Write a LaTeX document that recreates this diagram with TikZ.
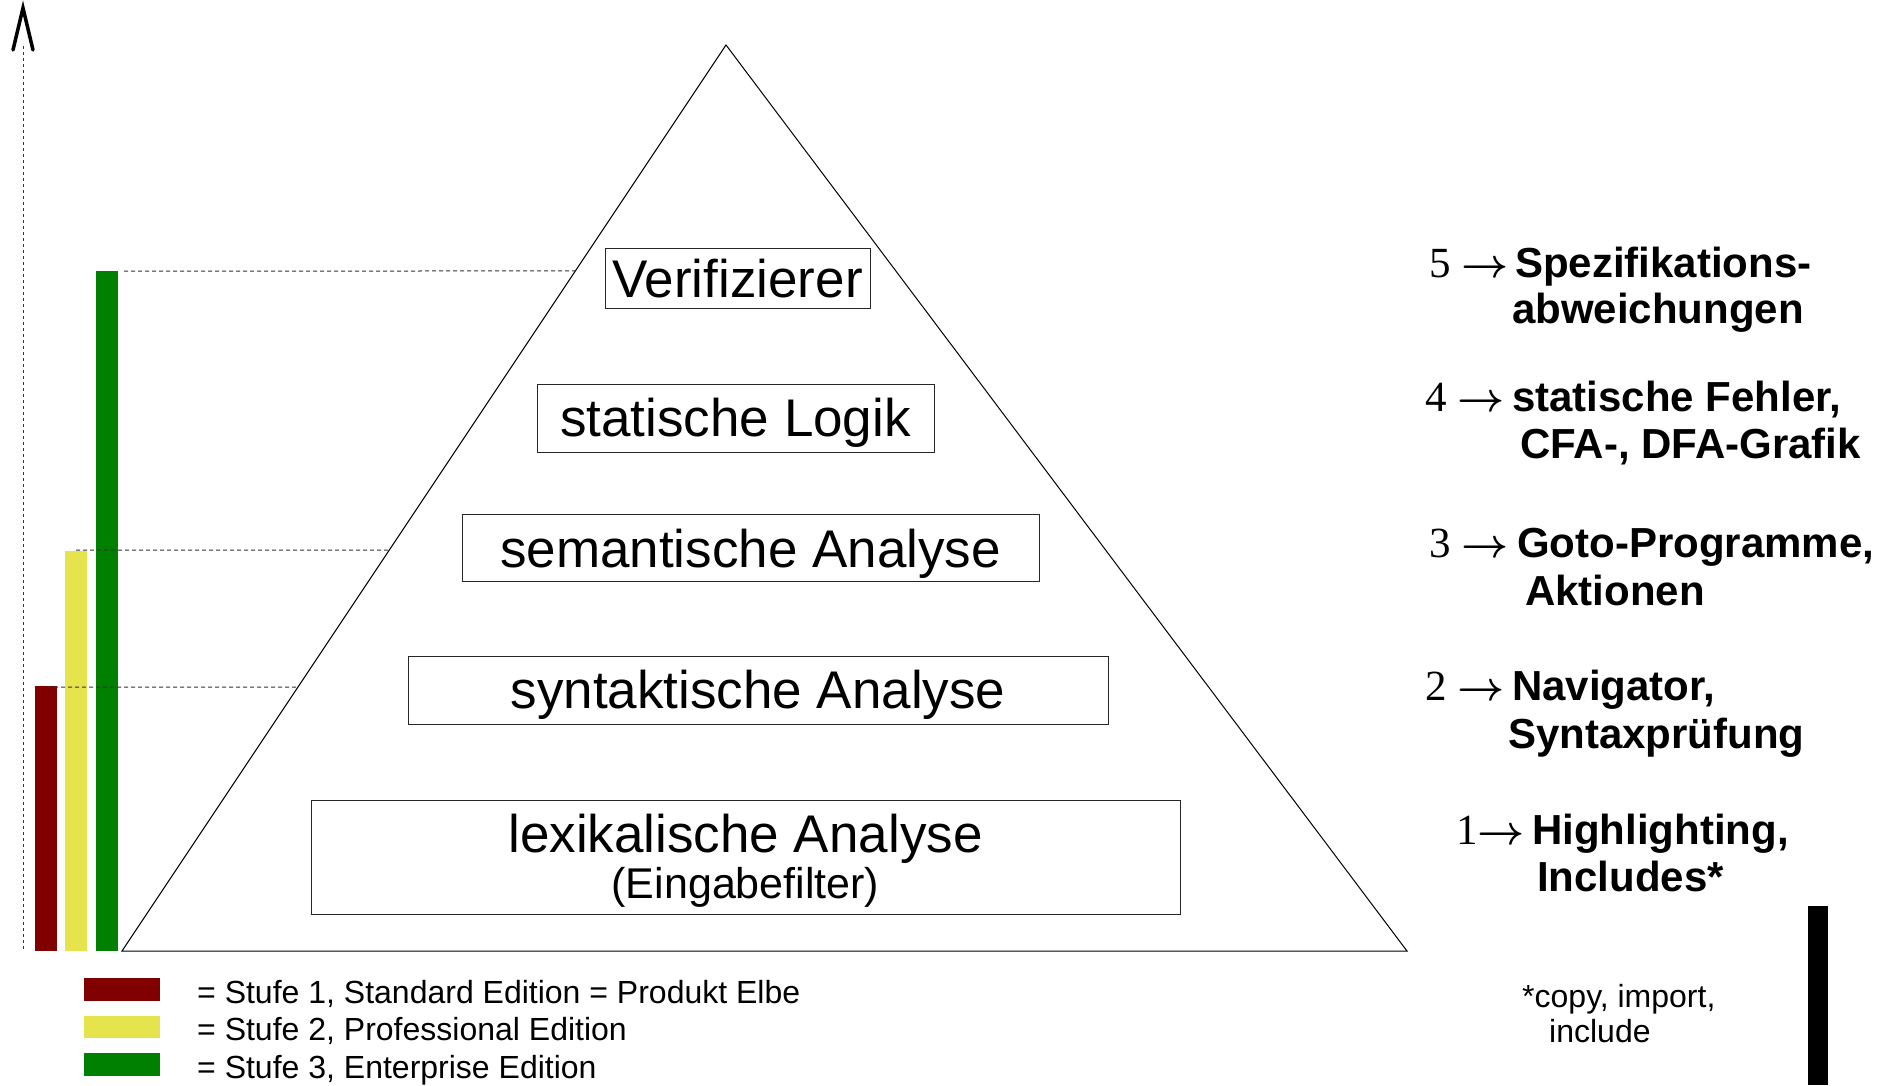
\documentclass[tikz,border=0pt]{standalone}
\usepackage{graphicx}
\usepackage{fontspec}
\setmainfont{Liberation Sans}
\newfontfamily\seriffont{Liberation Serif}
\usetikzlibrary{calc}
\newcommand{\bigarr}{\scalebox{4.1}{\fontsize{10}{12}\selectfont\boldmath$\rightarrow$}}
\begin{document}
\begin{tikzpicture}[x=1pt,y=-1pt,
  lvlbox/.style={draw=black!85, line width=1pt, inner sep=0pt, anchor=north west},
  boxlbl/.style={anchor=base, inner sep=0pt, font=\fontsize{53}{60}\selectfont},
  sublbl/.style={anchor=base, inner sep=0pt, font=\fontsize{43}{48}\selectfont},
  numlbl/.style={anchor=base west, inner sep=0pt, font=\seriffont\fontsize{43}{48}\selectfont},
  boldlbl/.style={anchor=base west, inner sep=0pt, font=\bfseries\fontsize{42}{48}\selectfont},
  leglbl/.style={anchor=base west, inner sep=0pt, font=\fontsize{32}{36}\selectfont},
  guide/.style={black!80, line width=1pt, dash pattern=on 4pt off 3pt},
]
\useasboundingbox (0,0) rectangle (1895,1085);
\definecolor{stufeA}{RGB}{128,0,0}
\definecolor{stufeB}{RGB}{230,228,77}
\definecolor{stufeC}{RGB}{0,128,0}

% axis
\coordinate (axtop) at (23,46);
\coordinate (axbot) at (23,951);
\draw[black!80, line width=1pt, dash pattern=on 3pt off 3pt] (axtop) -- (axbot);
\coordinate (apex) at (23,8);
\coordinate (legl) at (13,50);
\coordinate (legr) at (33,50);
\draw[line width=3.5pt, line cap=round, line join=miter] (legl) -- (apex) -- (legr);

% triangle
\coordinate (tA) at (726,45);
\coordinate (tL) at (122,951);
\coordinate (tR) at (1407,951);
\draw[line width=1pt] (tA) -- (tL) -- (tR) -- cycle;

% guide lines
\coordinate (gC) at (124,271);
\coordinate (gCe) at ($(tA)!{(271-45)/906}!(tL)$);
\coordinate (gB) at (76,550);
\coordinate (gBe) at ($(tA)!{(550-45)/906}!(tL)$);
\coordinate (gA) at (47,687);
\coordinate (gAe) at ($(tA)!{(687-45)/906}!(tL)$);

% bars
\fill[stufeA] (35,686) rectangle (57,951);
\fill[stufeB] (65,551) rectangle (87,951);
\fill[stufeC] (96,271) rectangle (118,951);
\draw[guide] (gC) -- (gCe);
\draw[guide] (gB) -- (gBe);
\draw[guide] (gA) -- (gAe);

% level boxes
\node[lvlbox, minimum width=265pt, minimum height=60pt] (verif) at (605,248) {};
\node[boxlbl] (verifT) at (737.5,297) {Verifizierer};
\node[lvlbox, minimum width=397pt, minimum height=68pt] (logik) at (537,384) {};
\node[boxlbl] (logikT) at (735.5,436) {statische Logik};
\node[lvlbox, minimum width=577pt, minimum height=67pt] (sem) at (462,514) {};
\node[boxlbl] (semT) at (750.5,567) {semantische Analyse};
\node[lvlbox, minimum width=700pt, minimum height=68pt] (syn) at (408,656) {};
\node[boxlbl] (synT) at (758,708) {syntaktische Analyse};
\node[lvlbox, minimum width=869pt, minimum height=114pt] (lex) at (311,800) {};
\node[boxlbl] (lexT) at (745.5,852) {lexikalische Analyse};
\node[sublbl] (lexS) at (745.5,898) {(Eingabefilter)};

% right column
\node[numlbl] (n5) at (1429,277) {5 \bigarr};
\node[boldlbl] (t5a) at (1515,277) {Spezifikations-};
\node[boldlbl] (t5b) at (1512,323) {abweichungen};
\node[numlbl] (n4) at (1425,411) {4 \bigarr};
\node[boldlbl] (t4a) at (1512,411) {statische Fehler,};
\node[boldlbl] (t4b) at (1520,458) {CFA-, DFA-Grafik};
\node[numlbl] (n3) at (1429,557) {3 \bigarr};
\node[boldlbl] (t3a) at (1517,557) {Goto-Programme,};
\node[boldlbl] (t3b) at (1525,605) {Aktionen};
\node[numlbl] (n2) at (1425,700) {2 \bigarr};
\node[boldlbl] (t2a) at (1512,700) {Navigator,};
\node[boldlbl] (t2b) at (1508,748) {Syntaxprüfung};
\node[numlbl] (n1) at (1456,844) {1\bigarr};
\node[boldlbl] (t1a) at (1532,844) {Highlighting,};
\node[boldlbl] (t1b) at (1537,891) {Includes*};

% footnote
\node[leglbl] (fn1) at (1522,1007) {*copy, import,};
\node[leglbl] (fn2) at (1549,1042) {include};
\fill[black] (1808,906) rectangle (1828,1085);

% legend
\fill[stufeA] (84,978) rectangle (160,1001);
\fill[stufeB] (84,1016) rectangle (160,1038);
\fill[stufeC] (84,1053) rectangle (160,1076);
\node[leglbl] (l1) at (197,1003) {= Stufe 1, Standard Edition = Produkt Elbe};
\node[leglbl] (l2) at (197,1040) {= Stufe 2, Professional Edition};
\node[leglbl] (l3) at (197,1078) {= Stufe 3, Enterprise Edition};
\end{tikzpicture}
\end{document}
